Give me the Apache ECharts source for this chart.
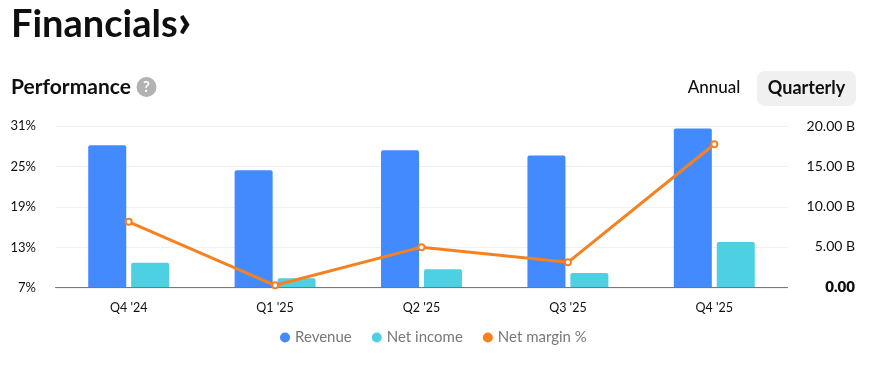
<!DOCTYPE html>
<html><head><meta charset="utf-8">
<style>html,body{margin:0;padding:0;background:#fff}#c{width:877px;height:365px}</style>
<script src="https://cdn.jsdelivr.net/npm/echarts@6/dist/echarts.min.js"></script>
</head><body><div id="c"></div>
<script>
const categories = ["Q4 '24","Q1 '25","Q2 '25","Q3 '25","Q4 '25"];
const revenue = [17.6,14.5,17.0,16.35,19.7];
const netIncome = [3.0,1.1,2.2,1.75,5.6];
const netMargin = [16.8,7.4,13.05,10.8,28.3];
const marginTicks = [7,13,19,25,31];
const revenueTicks = [0,5,10,15,20];
const FONT = 'Lato, sans-serif';
const chart = echarts.init(document.getElementById('c'), null, {renderer:'canvas'});
chart.setOption({
  animation:false,
  textStyle:{fontFamily:FONT},
  title:[
    {text:'{a|Financials}{b|\u203A}',left:11,top:-1,padding:0,textStyle:{rich:{
      a:{fontFamily:FONT,fontSize:38,fontWeight:700,color:'#0f0f0f'},
      b:{fontFamily:FONT,fontSize:46,fontWeight:900,color:'#0f0f0f',padding:[0,0,6,0]}}}},
    {text:'Performance',left:11,top:77,padding:0,textStyle:{fontFamily:FONT,fontSize:21,fontWeight:700,color:'#0f0f0f'}}
  ],
  grid:{left:55.5,right:89.5,top:126,bottom:77},
  legend:{bottom:15,left:275,itemWidth:10,itemHeight:10,itemGap:20,
    textStyle:{color:'#787878',fontSize:15,fontFamily:FONT},
    data:[
      {name:'Revenue',icon:'circle',itemStyle:{color:'#448aff',borderWidth:0}},
      {name:'Net income',icon:'circle',itemStyle:{color:'#4dd0e1',borderWidth:0}},
      {name:'Net margin %',icon:'circle',itemStyle:{color:'#f7811f',borderWidth:0}}]},
  xAxis:{type:'category',data:categories,
    axisLine:{lineStyle:{color:'#787878',width:1}},axisTick:{show:false},
    axisLabel:{color:'#0f0f0f',fontSize:12.5,margin:13,fontFamily:FONT}},
  yAxis:[
    {type:'value',min:7,max:31,position:'left',
      axisLine:{show:false},
      axisTick:{show:false,customValues:marginTicks},
      splitLine:{show:true,lineStyle:{color:'#f0f0f0',width:1}},
      axisLabel:{customValues:marginTicks,formatter:v=>v+'%',color:'#0f0f0f',fontSize:13,margin:19.5,fontFamily:FONT}},
    {type:'value',min:-0.125,max:20,position:'right',
      axisLine:{show:false},
      axisTick:{show:false,customValues:revenueTicks},
      splitLine:{show:false},
      axisLabel:{customValues:revenueTicks,align:'right',margin:67.5,color:'#0f0f0f',fontSize:14,fontFamily:FONT,
        formatter:v=>v===0?'{zero|0.00}':v.toFixed(2)+' B',
        rich:{zero:{fontWeight:800,fontSize:15,fontFamily:FONT,color:'#0f0f0f'}}}}
  ],
  series:[
    {name:'Revenue',type:'bar',yAxisIndex:1,data:revenue,barWidth:38,barGap:'13%',
      itemStyle:{color:'#448aff',borderRadius:[2,2,0,0]}},
    {name:'Net income',type:'bar',yAxisIndex:1,data:netIncome,barWidth:38,
      itemStyle:{color:'#4dd0e1',borderRadius:[2,2,0,0]}},
    {name:'Net margin %',type:'line',yAxisIndex:0,data:netMargin,symbol:'circle',symbolSize:6,
      lineStyle:{color:'#f7811f',width:3},
      itemStyle:{color:'#fff',borderColor:'#f7811f',borderWidth:2}}
  ],
  color:['#448aff','#4dd0e1','#f7811f'],
  graphic:[
    {type:'circle',shape:{cx:146.5,cy:87,r:10},style:{fill:'#b2b2b2'}},
    {type:'text',x:146.5,y:87,style:{text:'?',fill:'#fff',font:'bold 15px '+FONT,align:'center',verticalAlign:'middle'}},
    {type:'text',x:714,y:88,style:{text:'Annual',fill:'#0f0f0f',font:'500 17px '+FONT,align:'center',verticalAlign:'middle'}},
    {type:'rect',shape:{x:757,y:71,width:99,height:35,r:8},style:{fill:'#f0f0f0'}},
    {type:'text',x:806.5,y:88,style:{text:'Quarterly',fill:'#0f0f0f',font:'700 18px '+FONT,align:'center',verticalAlign:'middle'}}
  ]
});
</script></body></html>
